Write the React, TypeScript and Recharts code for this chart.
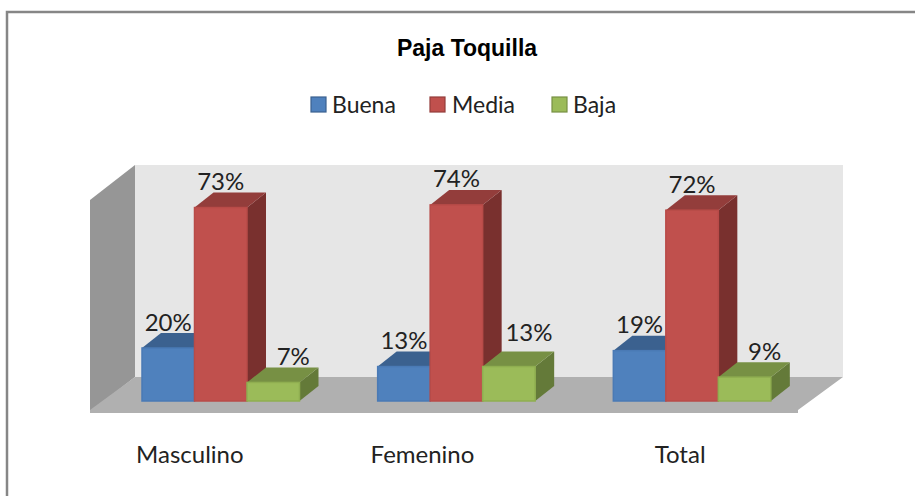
import { BarChart, Bar, XAxis, YAxis, LabelList, Customized } from 'recharts';

const categories = ['Masculino', 'Femenino', 'Total'];
const buena = [20, 13, 19];
const media = [73, 74, 72];
const baja = [7, 13, 9];

const data = categories.map((name, i) => ({ name, buena: buena[i], media: media[i], baja: baja[i] }));

const FONT = 'Lato, "Open Sans", sans-serif';
const DEPTH_X = 19;
const DEPTH_Y = 15;

// category labels are not centred under the bars in the original
const TICK_SHIFT = [-31, -34, -12];

const BLUE = { front: '#4f81bd', edge: '#4a7ab5', top: '#3b618f', side: '#2f4e73' };
const RED = { front: '#c0504d', edge: '#b84b48', top: '#933d3b', side: '#79302e' };
const GREEN = { front: '#9bbb59', edge: '#8fae50', top: '#779044', side: '#647a39' };

const LEGEND = [
  { label: 'Buena', colors: BLUE, box: 311, text: 332 },
  { label: 'Media', colors: RED, box: 430, text: 452 },
  { label: 'Baja', colors: GREEN, box: 552, text: 573 },
];

const makeCuboid = (c: typeof BLUE) => (props: any) => {
  const { x, y, width, height } = props;
  const r = x + width;
  const b = y + height;
  return (
    <g>
      <polygon points={`${r},${y} ${r + DEPTH_X},${y - DEPTH_Y} ${r + DEPTH_X},${b - DEPTH_Y} ${r},${b}`} fill={c.side} />
      <polygon points={`${x},${y} ${x + DEPTH_X},${y - DEPTH_Y} ${r + DEPTH_X},${y - DEPTH_Y} ${r},${y}`} fill={c.top} />
      <rect x={x} y={y} width={width} height={height} fill={c.front} stroke={c.edge} strokeWidth={1.5} />
    </g>
  );
};

const makeLabel = (dx: number) => (props: any) => {
  const { x, y, width, value } = props;
  // the 13% on the green bar sits a little higher in the original
  const lift = dx > 0 && value === 13 ? 35 : 27;
  return (
    <text
      x={x + width / 2 + dx}
      y={y - lift}
      textAnchor="middle"
      dominantBaseline="central"
      fontFamily={FONT}
      fontSize={24}
      fill="#222"
    >
      {`${value}%`}
    </text>
  );
};

const CategoryTick = (props: any) => {
  const { x, index, payload } = props;
  return (
    <text
      x={x + TICK_SHIFT[index]}
      y={453}
      textAnchor="middle"
      dominantBaseline="central"
      fontFamily={FONT}
      fontSize={24}
      fill="#222"
    >
      {payload.value}
    </text>
  );
};

const Frame = () => (
  <g>
    <polyline points="7,496 7,12 915,12" fill="none" stroke="#868686" strokeWidth={2.5} />
    <polygon points="135,165 843,165 843,377 135,377" fill="#e6e6e6" />
    <polygon points="90,200 135,165 135,377 90,412" fill="#969696" />
    <polygon points="90,410 135,377 843,377 798,410 798,413 90,413" fill="#b0b0b0" />
    <text x={467} y={48} textAnchor="middle" dominantBaseline="central" fontFamily='"Liberation Sans", Arial, sans-serif' fontWeight="bold" fontSize={23} fill="#000">
      Paja Toquilla
    </text>
    {LEGEND.map((l) => (
      <g key={l.label}>
        <rect x={l.box} y={97} width={15} height={15} fill={l.colors.front} stroke={l.colors.top} strokeWidth={1.2} />
        <text x={l.text} y={104} dominantBaseline="central" fontFamily={FONT} fontSize={23} fill="#222">
          {l.label}
        </text>
      </g>
    ))}
  </g>
);

export default function App() {
  return (
    <div style={{ position: 'absolute', left: 0, top: 0, width: 915, height: 496, background: '#fff' }}>
      <BarChart
        width={915}
        height={496}
        data={data}
        margin={{ top: 136, right: 105, bottom: 0, left: 103 }}
        barSize={52.5}
        barGap={0}
      >
        <Customized component={Frame} />
        <XAxis dataKey="name" height={95} axisLine={false} tickLine={false} tick={<CategoryTick />} />
        <YAxis hide domain={[0, 100]} />
        <Bar dataKey="buena" isAnimationActive={false} shape={makeCuboid(BLUE)}>
          <LabelList dataKey="buena" content={makeLabel(0)} />
        </Bar>
        <Bar dataKey="media" isAnimationActive={false} shape={makeCuboid(RED)}>
          <LabelList dataKey="media" content={makeLabel(0)} />
        </Bar>
        <Bar dataKey="baja" isAnimationActive={false} shape={makeCuboid(GREEN)}>
          <LabelList dataKey="baja" content={makeLabel(20)} />
        </Bar>
      </BarChart>
    </div>
  );
}
